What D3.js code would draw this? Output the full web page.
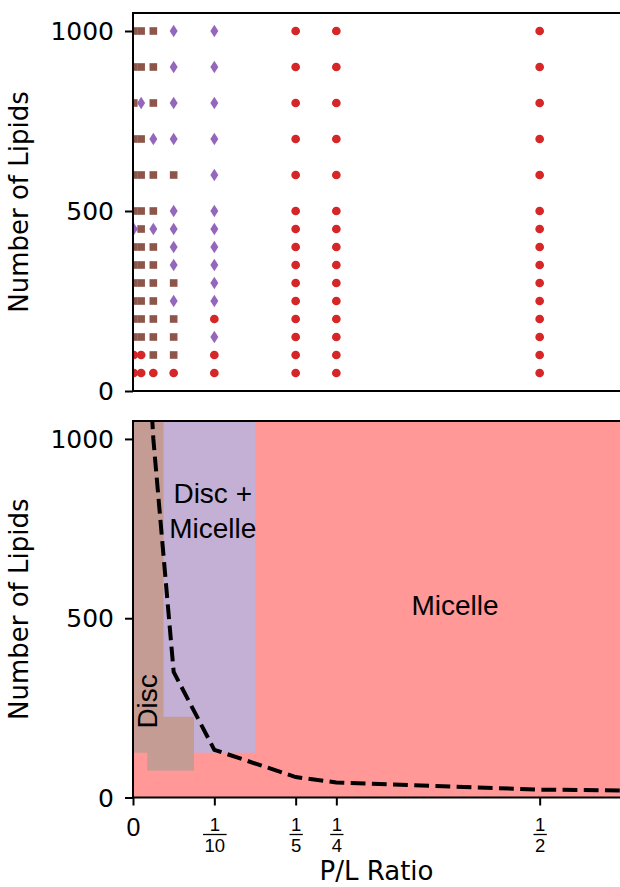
<!DOCTYPE html>
<html>
<head>
<meta charset="utf-8">
<script src="https://cdn.jsdelivr.net/npm/d3@7"></script>
<style>
body { margin: 0; background: #fff; }
svg { display: block; font-family: "DejaVu Sans", sans-serif; }
</style>
</head>
<body>
<svg id="chart" width="620" height="887"></svg>
<script>
// simulation grid
var lipidCounts = [50, 100, 150, 200, 250, 300, 350, 400, 450, 500, 600, 700, 800, 900, 1000];
var plRatios = [0.001, 0.01, 0.025, 0.05, 0.1, 0.2, 0.25, 0.5];
// D = disc, M = disc + micelle, C = micelle. one string per P/L ratio, 50 -> 1000 lipids
var outcomes = [
	"CCDDDDDDMDDDDDD",
	"CCDDDDDDDDDDMDD",
	"CDDDDDDDMDDMDDD",
	"CDDDMDMMMMDMMMM",
	"CCMCMMMMMMMMMMM",
	"CCCCCCCCCCCCCCC",
	"CCCCCCCCCCCCCCC",
	"CCCCCCCCCCCCCCC"
];

// phase diagram boxes [x0, x1, y0, y1]
var micelleBox = [0, 0.6, 0, 1050];
var mixedBox = [0.0375, 0.15, 125, 1050];
var discBoxes = [[0, 0.0375, 125, 1050], [0.0175, 0.075, 75, 225]];

// dashed boundary
var boundaryRatio = [0.01, 0.025, 0.05, 0.1, 0.2, 0.25, 0.5, 0.6];
var boundaryLipids = [1600, 1000, 350, 133, 57, 42, 22, 19.5];

var yTicks = [0, 500, 1000];
var xTicks = [0, 0.1, 0.2, 0.25, 0.5];
var xTickLabels = ["0", "1/10", "1/5", "1/4", "1/2"];

var markerColor = {D: "#8c564b", M: "#9467bd", C: "#d62728"};
var regionColor = {D: "#c49c94", M: "#c5b0d5", C: "#ff9896"};

var svg = d3.select("#chart");

var x = d3.scaleLinear().domain([0, 0.6]).range([133, 621]);
var yTop = d3.scaleLinear().domain([0, 1050]).range([391, 13]);
var yBot = d3.scaleLinear().domain([0, 1050]).range([797.5, 421]);

var defs = svg.append("defs");
defs.append("clipPath").attr("id", "clipTop").append("rect")
	.attr("x", x(0)).attr("y", yTop(1050)).attr("width", x(0.6) - x(0)).attr("height", yTop(0) - yTop(1050));
defs.append("clipPath").attr("id", "clipBot").append("rect")
	.attr("x", x(0)).attr("y", yBot(1050)).attr("width", x(0.6) - x(0)).attr("height", yBot(0) - yBot(1050));

// ---------- top panel: simulation outcomes ----------
var points = [];
plRatios.forEach(function(r, i) {
	lipidCounts.forEach(function(n, j) {
		points.push({ratio: r, lipids: n, phase: outcomes[i][j]});
	});
});

var sym = {
	D: d3.symbol().type(d3.symbolSquare).size(58)(),
	C: d3.symbol().type(d3.symbolCircle).size(60)(),
	M: "M0,-6.2L4,0L0,6.2L-4,0Z"
};

svg.append("g").attr("clip-path", "url(#clipTop)")
	.selectAll("path")
	.data(points)
	.enter().append("path")
	.attr("transform", function(d) { return "translate(" + x(d.ratio) + "," + yTop(d.lipids) + ")"; })
	.attr("d", function(d) { return sym[d.phase]; })
	.attr("fill", function(d) { return markerColor[d.phase]; });

// ---------- bottom panel: phase diagram ----------
var bot = svg.append("g").attr("clip-path", "url(#clipBot)");

function box(b, col) {
	bot.append("rect")
		.attr("x", x(b[0])).attr("width", x(b[1]) - x(b[0]))
		.attr("y", yBot(b[3])).attr("height", yBot(b[2]) - yBot(b[3]))
		.attr("fill", col);
}
box(micelleBox, regionColor.C);
box(mixedBox, regionColor.M);
discBoxes.forEach(function(b) { box(b, regionColor.D); });

var line = d3.line()
	.x(function(d, i) { return x(boundaryRatio[i]); })
	.y(function(d) { return yBot(d); });

bot.append("path")
	.attr("d", line(boundaryLipids))
	.attr("fill", "none")
	.attr("stroke", "#000")
	.attr("stroke-width", 4)
	.attr("stroke-dasharray", "14.8,6.4");

// region labels
var lab = svg.append("g").style("font-family", "'Liberation Sans', Arial, sans-serif").style("font-size", "28px").attr("fill", "#000");
lab.append("text").attr("x", x(0.098)).attr("y", yBot(821)).attr("text-anchor", "middle").text("Disc +");
lab.append("text").attr("x", x(0.098)).attr("y", yBot(725)).attr("text-anchor", "middle").text("Micelle");
lab.append("text").attr("x", x(0.396)).attr("y", yBot(510)).attr("text-anchor", "middle").text("Micelle");
lab.append("text")
	.attr("transform", "translate(" + x(0.029) + "," + yBot(268) + ")rotate(-90)")
	.attr("text-anchor", "middle").text("Disc");

// ---------- axes ----------
function yAxis(scale) {
	var g = svg.append("g").attr("transform", "translate(" + x(0) + ",0)")
		.call(d3.axisLeft(scale).tickValues(yTicks).tickFormat(d3.format("d")).tickSize(8).tickPadding(11).tickSizeOuter(0));
	g.select(".domain").remove();
	g.selectAll(".tick line").attr("stroke", "#000").attr("stroke-width", 2);
	g.selectAll(".tick text").attr("fill", "#000").attr("dy", "0.35em")
		.style("font-size", "25px").style("font-family", "'DejaVu Sans', sans-serif");
}
yAxis(yTop);
yAxis(yBot);

var xg = svg.append("g").attr("transform", "translate(0," + yBot(0) + ")")
	.call(d3.axisBottom(x).tickValues(xTicks).tickSize(8).tickFormat("").tickSizeOuter(0));
xg.select(".domain").remove();
xg.selectAll(".tick line").attr("stroke", "#000").attr("stroke-width", 2);

xg.selectAll(".tick").each(function(d, i) {
	var t = d3.select(this);
	var parts = xTickLabels[i].split("/");
	if (parts.length == 1) {
		t.append("text").attr("y", 38).attr("text-anchor", "middle").attr("fill", "#000")
			.style("font-size", "25px").text(parts[0]);
		return;
	}
	var num = t.append("text").attr("y", 33.5).attr("text-anchor", "middle").attr("fill", "#000")
		.style("font-size", "18.5px").text(parts[0]);
	var den = t.append("text").attr("y", 54.5).attr("text-anchor", "middle").attr("fill", "#000")
		.style("font-size", "18.5px").text(parts[1]);
	var w = Math.max(num.node().getComputedTextLength(), den.node().getComputedTextLength()) + 3;
	t.append("line").attr("x1", -w / 2).attr("x2", w / 2).attr("y1", 37).attr("y2", 37)
		.attr("stroke", "#000").attr("stroke-width", 1.3);
});

// frames
[[yTop(1050), yTop(0)], [yBot(1050), yBot(0)]].forEach(function(p) {
	svg.append("rect")
		.attr("x", x(0)).attr("y", p[0])
		.attr("width", x(0.6) - x(0) + 4).attr("height", p[1] - p[0])
		.attr("fill", "none").attr("stroke", "#000").attr("stroke-width", 2);
});

// axis titles
svg.append("text").attr("text-anchor", "middle").attr("fill", "#000").style("font-size", "26px")
	.attr("transform", "translate(28," + (yTop(0) + yTop(1050)) / 2 + ")rotate(-90)")
	.text("Number of Lipids");
svg.append("text").attr("text-anchor", "middle").attr("fill", "#000").style("font-size", "26px")
	.attr("transform", "translate(28," + (yBot(0) + yBot(1050)) / 2 + ")rotate(-90)")
	.text("Number of Lipids");
svg.append("text").attr("text-anchor", "middle").attr("fill", "#000").style("font-size", "26px")
	.attr("x", (x(0) + 620) / 2).attr("y", 880)
	.text("P/L Ratio");
</script>
</body>
</html>
